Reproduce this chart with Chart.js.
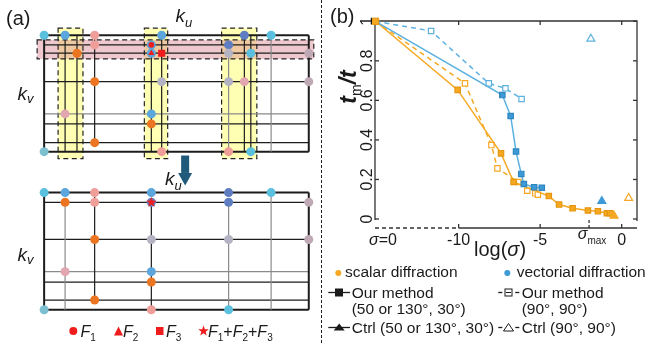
<!DOCTYPE html>
<html>
<head>
<meta charset="utf-8">
<script src="https://cdn.jsdelivr.net/npm/chart.js@4.4.0/dist/chart.umd.min.js"></script>
<style>
  html, body { margin: 0; padding: 0; background: #fff; }
  #wrap { position: relative; width: 651px; height: 343px; overflow: hidden; }
  #chartA { position: absolute; left: 0; top: 0; }
  #chartB { position: absolute; left: 322px; top: 0; }
  #divider { position: absolute; left: 321px; top: 0; width: 0; height: 343px; border-left: 1px dashed #222; }
</style>
</head>
<body>
<div id="wrap">
  <canvas id="chartA" width="322" height="343"></canvas>
  <canvas id="chartB" width="329" height="343"></canvas>
  <div id="divider"></div>
</div>
<script>
// ---------- (a) schematic: k-space grid before / after merging ----------
const kuTop = [40, 61.7, 74, 92.3, 151, 161.7, 231, 247.3, 254, 275, 314];
const kvTop = [30.7, 40.7, 49.3, 78.7, 112, 122.3, 141.7, 151];
const kuBot = [40, 61.7, 92.3, 151, 231, 275, 314];
const kvBot = [193.3, 203.3, 241.7, 275, 285.7, 304.3, 314.3];

// [column, fromRow, toRow, tone]
const topVLines = [[0,0,7,'b'],[1,0,7,'k'],[2,0,7,'k'],[3,0,6,'k'],[4,1,7,'k'],[5,0,7,'k'],
                   [6,1,7,'g'],[7,0,7,'k'],[8,0,7,'k'],[9,0,7,'g'],[10,0,7,'b']];
const topHTones = ['b','k','k','k','g','k','k','b'];
const botVLines = [[0,0,6,'b'],[1,1,6,'g'],[2,0,5,'k'],[3,1,6,'k'],[4,1,6,'g'],[5,0,6,'g'],[6,0,6,'b']];
const botHTones = ['b','k','k','g','k','k','b'];

// [column, row, colour]
const topDots = [[0,0,'cyan'],[1,0,'blue'],[3,0,'salmon'],[3,1,'salmon'],[2,2,'orange'],[3,3,'orange'],
                 [1,4,'pink'],[3,6,'orange'],[0,7,'teal'],[5,0,'blue'],[4,1,'blue'],[4,2,'blue'],
                 [5,3,'gray'],[4,4,'blue'],[4,5,'orange'],[5,7,'salmon'],[7,0,'dblue'],[9,0,'cyan'],
                 [6,1,'dblue'],[6,2,'gray'],[8,2,'cyan'],[10,2,'mauve'],[6,3,'gray'],[7,3,'pink'],
                 [10,3,'mauve'],[6,7,'salmon'],[8,7,'cyan']];
const botDots = [[0,0,'cyan'],[1,0,'blue'],[2,0,'salmon'],[3,0,'blue'],[4,0,'dblue'],[5,0,'cyan'],
                 [1,1,'orange'],[2,1,'salmon'],[3,1,'dblue'],[4,1,'dblue'],[6,1,'mauve'],
                 [2,2,'orange'],[3,2,'gray'],[4,2,'gray'],[6,2,'mauve'],[1,3,'pink'],[3,3,'blue'],
                 [3,4,'orange'],[2,5,'orange'],[0,6,'teal'],[3,6,'salmon'],[4,6,'cyan']];
// F markers [column, row]: F1, F2, F3 in the top grid, F1+F2+F3 in the bottom grid
const f1Top = [4, 1];
const f2Top = [4, 2];
const f3Top = [5, 2];
const fSumBot = [3, 1];
const yellowCols = [[1,2],[4,5],[6,8]];
const pinkRows = [1,2];

const dotColor = { cyan:'#5BC0DE', blue:'#5AA6DD', dblue:'#5F7EC2', salmon:'#EF9E9A', orange:'#EC7522',
                   pink:'#E2A6B0', gray:'#B3B3C3', mauve:'#BFA9B4', teal:'#7CC0D0' };
const FONT = "'Liberation Sans', Arial, sans-serif";
const RED = '#EE1C1C';

function starPath(ctx, cx, cy, r) {
  ctx.beginPath();
  for (let i = 0; i < 10; i++) {
    const rr = i % 2 ? r * 0.42 : r;
    const a = -Math.PI / 2 + i * Math.PI / 5;
    const px = cx + rr * Math.cos(a), py = cy + rr * Math.sin(a);
    if (i) ctx.lineTo(px, py); else ctx.moveTo(px, py);
  }
  ctx.closePath();
}
function starImage(r) {
  const c = document.createElement('canvas');
  c.width = c.height = Math.ceil(r * 2) + 2;
  const g = c.getContext('2d');
  g.fillStyle = RED;
  starPath(g, c.width / 2, c.height / 2, r);
  g.fill();
  return c;
}

// draws pieces of text one after another: [text, font, dy]
function richText(ctx, parts, x, y, align) {
  ctx.textAlign = 'left';
  let w = 0;
  parts.forEach(p => { ctx.font = p[1]; w += ctx.measureText(p[0]).width; });
  let cx = align === 'center' ? x - w / 2 : x;
  parts.forEach(p => {
    ctx.font = p[1];
    ctx.fillText(p[0], cx, y + (p[2] || 0));
    cx += ctx.measureText(p[0]).width;
  });
}

const lineSets = [];
function addLine(x0, y0, x1, y1, tone) {
  lineSets.push({
    data: [{x: x0, y: y0}, {x: x1, y: y1}], showLine: true, pointRadius: 0, order: 3,
    borderColor: tone === 'g' ? '#8a8a8a' : '#1c1c1c', borderWidth: tone === 'b' ? 2 : 1.2
  });
}
topVLines.forEach(([c, r0, r1, t]) => addLine(kuTop[c], kvTop[r0], kuTop[c], kvTop[r1], t));
topHTones.forEach((t, r) => addLine(kuTop[0], kvTop[r], kuTop[kuTop.length - 1], kvTop[r], t));
botVLines.forEach(([c, r0, r1, t]) => addLine(kuBot[c], kvBot[r0], kuBot[c], kvBot[r1], t));
botHTones.forEach((t, r) => addLine(kuBot[0], kvBot[r], kuBot[kuBot.length - 1], kvBot[r], t));

const allDots = topDots.map(d => ({x: kuTop[d[0]], y: kvTop[d[1]], c: d[2]}))
  .concat(botDots.map(d => ({x: kuBot[d[0]], y: kvBot[d[1]], c: d[2]})));

function fMark(pt, ku, kv, style, radius) {
  return {
    data: [{x: ku[pt[0]], y: kv[pt[1]]}], order: 1, pointStyle: style, pointRadius: radius,
    pointBackgroundColor: RED, pointBorderColor: RED, pointBorderWidth: 0
  };
}

const schemeA = {
  id: 'schemeA',
  beforeDatasetsDraw(chart) {
    const {ctx, scales: {x, y}} = chart;
    const t = y.getPixelForValue(kvTop[0]) - 7, b = y.getPixelForValue(kvTop[kvTop.length - 1]) + 7;
    const boxes = yellowCols.map(([c0, c1]) => [x.getPixelForValue(kuTop[c0]) - 7, x.getPixelForValue(kuTop[c1]) + 6]);
    const pl = x.getPixelForValue(kuTop[0]) - 7, pr = x.getPixelForValue(kuTop[kuTop.length - 1]) + 5;
    const pt = y.getPixelForValue(kvTop[pinkRows[0]]) - 5, pb = y.getPixelForValue(kvTop[pinkRows[1]]) + 5.7;
    ctx.save();
    ctx.fillStyle = '#FFFFB4';
    boxes.forEach(([l, r]) => ctx.fillRect(l, t, r - l, b - t));
    ctx.fillStyle = 'rgba(215,125,135,0.42)';
    ctx.fillRect(pl, pt, pr - pl, pb - pt);
    ctx.strokeStyle = '#222'; ctx.lineWidth = 1.2; ctx.setLineDash([5, 3.5]);
    boxes.forEach(([l, r]) => ctx.strokeRect(l, t, r - l, b - t));
    ctx.strokeRect(pl, pt, pr - pl, pb - pt);
    ctx.restore();
  },
  afterDraw(chart) {
    const {ctx, scales: {x, y}} = chart;
    ctx.save();
    ctx.fillStyle = '#1a1a1a';
    ctx.textBaseline = 'alphabetic';
    richText(ctx, [['(a)', '20px ' + FONT]], 6, 25);
    const kf = 'italic 19px ' + FONT, sf = 'italic 13px ' + FONT;
    richText(ctx, [['k', kf], ['u', sf, 5]], 175.5, 21.7);
    richText(ctx, [['k', kf], ['v', sf, 3]], 17.5, 100);
    richText(ctx, [['k', kf], ['u', sf, 5]], 165, 185);
    richText(ctx, [['k', kf], ['v', sf, 3]], 17.5, 260.5);

    // arrow between the two grids
    const ax = x.getPixelForValue(186), a0 = y.getPixelForValue(155), a1 = y.getPixelForValue(173), a2 = y.getPixelForValue(186);
    ctx.fillStyle = '#1F5A7A';
    ctx.fillRect(ax - 4, a0, 8, a1 - a0);
    ctx.beginPath(); ctx.moveTo(ax - 7, a1); ctx.lineTo(ax + 7, a1); ctx.lineTo(ax, a2); ctx.closePath(); ctx.fill();

    // F legend
    const ly = 331, F = 'italic 16px ' + FONT, S = '10px ' + FONT, P = '16px ' + FONT;
    ctx.fillStyle = RED;
    ctx.beginPath(); ctx.arc(73.3, ly, 4, 0, Math.PI * 2); ctx.fill();
    ctx.beginPath(); ctx.moveTo(114, ly + 4.5); ctx.lineTo(123, ly + 4.5); ctx.lineTo(118.5, ly - 4.5); ctx.closePath(); ctx.fill();
    ctx.fillRect(156, ly - 4, 7.5, 8);
    starPath(ctx, 203.5, ly, 5.5); ctx.fill();
    ctx.fillStyle = '#1a1a1a';
    richText(ctx, [['F', F], ['1', S, 4.5]], 80.5, 336.7);
    richText(ctx, [['F', F], ['2', S, 4.5]], 123, 336.7);
    richText(ctx, [['F', F], ['3', S, 4.5]], 166, 336.7);
    richText(ctx, [['F', F], ['1', S, 4.5], ['+', P], ['F', F], ['2', S, 4.5], ['+', P], ['F', F], ['3', S, 4.5]], 208, 336.7);
    ctx.restore();
  }
};

new Chart(document.getElementById('chartA'), {
  type: 'scatter',
  data: {
    datasets: [
      fMark(f1Top, kuTop, kvTop, 'circle', 2.8),
      fMark(f2Top, kuTop, kvTop, 'triangle', 3.6),
      fMark(f3Top, kuTop, kvTop, 'rect', 5),
      fMark(fSumBot, kuBot, kvBot, starImage(5.5), 5.5),
      {
        data: allDots, order: 2, pointStyle: 'circle', pointRadius: 4.5, pointBorderWidth: 0,
        pointBackgroundColor: allDots.map(p => dotColor[p.c])
      }
    ].concat(lineSets)
  },
  options: {
    responsive: false, animation: false, events: [],
    layout: { padding: 0 },
    plugins: { legend: { display: false }, tooltip: { enabled: false } },
    scales: {
      x: { type: 'linear', min: 0, max: 322, display: false },
      y: { type: 'linear', min: 0, max: 343, reverse: true, display: false }
    }
  },
  plugins: [schemeA]
});

// ---------- (b) t_m/t versus log(sigma); first point of each series is sigma = 0 ----------
const scalarOurX = [-15.1, -10.06, -7.40, -6.63, -4.47, -3.84, -3.01, -2.07, -1.46, -0.91, -0.71];
const scalarOurY = [1.0, 0.653, 0.332, 0.187, 0.116, 0.073, 0.054, 0.043, 0.039, 0.029, 0.029];
const scalar90X = [-15.1, -9.61, -7.99, -7.62, -6.34, -5.79, -5.30, -5.14];
const scalar90Y = [1.0, 0.686, 0.374, 0.256, 0.187, 0.143, 0.130, 0.123];
const vectorOurX = [-15.1, -7.32, -6.81, -6.48, -6.16, -6.0, -5.37, -4.9];
const vectorOurY = [1.0, 0.627, 0.521, 0.341, 0.228, 0.177, 0.161, 0.158];
const vector90X = [-15.1, -11.69, -8.15, -7.13, -6.14];
const vector90Y = [1.0, 0.951, 0.686, 0.661, 0.607];
const scalarCtrl = [-0.47, 0.016];
const vectorCtrl = [-1.22, 0.090];
const scalarCtrl90 = [0.43, 0.106];
const vectorCtrl90 = [-1.89, 0.911];
const yTickVals = [0, 0.2, 0.4, 0.6, 0.8, 1];
const yTickLabels = ['0', '0.2', '0.4', '0.6', '0.8', '1'];
const xTickVals = [-10, -5, 0];
const xTickLabels = ['-10', '-5', '0'];
const sigmaMax = -2;

const ORANGE = '#F6A823', ORANGE_D = '#E5960E', BLUE = '#5CB1E0', BLUE_F = '#3E9AD6', BLUE_D = '#2C86C0';
const xy = (xs, ys) => xs.map((v, i) => ({x: v, y: ys[i]}));
const noFirst = (n, r) => Array.from({length: n}, (_, i) => i === 0 ? 0 : r);

function series(xs, ys, line, dash, fill, edge, order) {
  return {
    data: xy(xs, ys), showLine: true, clip: false, order: order,
    borderColor: line, borderWidth: 1.5, borderDash: dash,
    pointStyle: 'rect', pointRadius: noFirst(xs.length, 3.8),
    pointBackgroundColor: fill, pointBorderColor: edge, pointBorderWidth: 1.2
  };
}
function marker(p, fill, edge, order) {
  return {
    data: [{x: p[0], y: p[1]}], showLine: false, clip: false, order: order,
    pointStyle: 'triangle', pointRadius: 4.6,
    pointBackgroundColor: fill, pointBorderColor: edge, pointBorderWidth: 1.2
  };
}

const axesB = {
  id: 'axesB',
  beforeDatasetsDraw(chart) {
    const {ctx, chartArea: a, scales: {x, y}} = chart;
    const y0 = y.getPixelForValue(0);
    const seg = (x0, y0_, x1, y1) => { ctx.beginPath(); ctx.moveTo(x0, y0_); ctx.lineTo(x1, y1); ctx.stroke(); };
    ctx.save();
    ctx.strokeStyle = '#333'; ctx.lineWidth = 1.3;
    ctx.beginPath();
    ctx.moveTo(a.left, y0 + 1); ctx.lineTo(a.left, a.top); ctx.lineTo(a.right, a.top); ctx.lineTo(a.right, y0 + 2);
    ctx.stroke();
    const xm10 = x.getPixelForValue(xTickVals[0]);
    ctx.setLineDash([4, 3]);
    seg(a.left, a.bottom, xm10, a.bottom);
    ctx.setLineDash([]);
    seg(xm10, a.bottom, a.right, a.bottom);
    yTickVals.forEach(v => {
      const p = y.getPixelForValue(v);
      seg(a.left, p, a.left + 4, p); seg(a.right, p, a.right - 4, p);
    });
    xTickVals.forEach(v => {
      const p = x.getPixelForValue(v);
      seg(p, a.top, p, a.top + 4); seg(p, a.bottom, p, a.bottom - 4);
    });
    const sm = x.getPixelForValue(sigmaMax);
    ctx.setLineDash([3, 2]);
    seg(sm, a.bottom, sm, y0);
    ctx.restore();
  },
  afterDraw(chart) {
    const {ctx, chartArea: a, scales: {x, y}} = chart;
    const T = '16px ' + FONT, TI = 'italic 16px ' + FONT;
    ctx.save();
    ctx.fillStyle = '#1a1a1a';
    ctx.textBaseline = 'alphabetic';
    richText(ctx, [['(b)', '20px ' + FONT]], 8, 23);

    // x tick labels
    xTickVals.forEach((v, i) => richText(ctx, [[xTickLabels[i], T]], x.getPixelForValue(v), 244.5, 'center'));
    richText(ctx, [['σ', TI], ['=0', T]], a.left + 8, 244.5, 'center');
    richText(ctx, [['σ', TI], ['max', '10px ' + FONT, 5]], x.getPixelForValue(sigmaMax) + 3, 239, 'center');
    richText(ctx, [['log(', '20px ' + FONT], ['σ', 'italic 20px ' + FONT], [')', '20px ' + FONT]], 178, 256, 'center');

    // y tick labels, rotated
    yTickVals.forEach((v, i) => {
      ctx.save();
      ctx.translate(a.left - 3.5, y.getPixelForValue(v));
      ctx.rotate(-Math.PI / 2);
      richText(ctx, [[yTickLabels[i], T]], 0, 0, 'center');
      ctx.restore();
    });
    ctx.save();
    ctx.translate(a.left - 19, 87);
    ctx.rotate(-Math.PI / 2);
    const TT = 'bold italic 23px ' + FONT;
    richText(ctx, [['t', TT], ['m', '14px ' + FONT, 4.5], ['/', TT], ['t', TT]], 0, 0, 'center');
    ctx.restore();

    // legend
    const L = '15.5px ' + FONT;
    ctx.fillStyle = ORANGE; ctx.beginPath(); ctx.arc(16.3, 273, 3, 0, Math.PI * 2); ctx.fill();
    ctx.fillStyle = BLUE_F; ctx.beginPath(); ctx.arc(185.3, 273, 3, 0, Math.PI * 2); ctx.fill();
    ctx.fillStyle = '#1a1a1a';
    richText(ctx, [['scalar diffraction', L]], 23, 277);
    richText(ctx, [['vectorial diffraction', L]], 194.7, 277);
    richText(ctx, [['Our method', L]], 29.7, 298);
    richText(ctx, [['(50 or 130°, 30°)', L]], 29.7, 313.5);
    richText(ctx, [['Ctrl (50 or 130°, 30°)', L]], 29.7, 333);
    richText(ctx, [['Our method', L]], 199.7, 298);
    richText(ctx, [['(90°, 90°)', L]], 199.7, 313.5);
    richText(ctx, [['Ctrl (90°, 90°)', L]], 199.7, 333);

    ctx.strokeStyle = '#1a1a1a'; ctx.lineWidth = 1.3;
    const seg = (x0, y0, x1, y1) => { ctx.beginPath(); ctx.moveTo(x0, y0); ctx.lineTo(x1, y1); ctx.stroke(); };
    seg(6.3, 292.5, 28, 292.5); ctx.fillRect(13, 288.5, 8, 8);
    seg(6.3, 327.5, 28, 327.5);
    ctx.beginPath(); ctx.moveTo(11.7, 330.5); ctx.lineTo(22.7, 330.5); ctx.lineTo(17.2, 323.5); ctx.closePath(); ctx.fill();
    seg(176.3, 292.5, 180.3, 292.5); seg(193.3, 292.5, 197.3, 292.5);
    ctx.lineWidth = 1; ctx.strokeRect(183, 289, 7, 7); seg(184, 292.5, 189, 292.5);
    ctx.lineWidth = 1.3;
    seg(176.3, 327.5, 180.3, 327.5); seg(193.3, 327.5, 197.3, 327.5);
    ctx.lineWidth = 1;
    ctx.beginPath(); ctx.moveTo(181.5, 331); ctx.lineTo(191.5, 331); ctx.lineTo(186.5, 323.5); ctx.closePath(); ctx.stroke();
    ctx.restore();
  }
};

new Chart(document.getElementById('chartB'), {
  type: 'scatter',
  data: {
    datasets: [
      marker(scalarCtrl, ORANGE, ORANGE, 0),
      marker(vectorCtrl, BLUE_F, BLUE_F, 0),
      marker(scalarCtrl90, '#fff', ORANGE, 0),
      marker(vectorCtrl90, '#fff', BLUE, 0),
      { data: [{x: scalarOurX[0], y: scalarOurY[0]}], showLine: false, clip: false, order: 0,
        pointStyle: 'rect', pointRadius: 4.5, pointBackgroundColor: ORANGE, pointBorderColor: ORANGE_D, pointBorderWidth: 1 },
      series(vectorOurX, vectorOurY, BLUE, [], BLUE_F, BLUE_D, 1),
      series(vector90X, vector90Y, BLUE, [5, 4], '#fff', BLUE, 2),
      series(scalarOurX, scalarOurY, ORANGE, [], ORANGE, ORANGE_D, 3),
      series(scalar90X, scalar90Y, ORANGE, [5, 4], '#fff', ORANGE, 4)
    ]
  },
  options: {
    responsive: false, animation: false, events: [],
    layout: { padding: { left: 53, right: 14, top: 21, bottom: 115 } },
    plugins: { legend: { display: false }, tooltip: { enabled: false } },
    scales: {
      x: { type: 'linear', min: -15.13, max: 0.94, display: false },
      y: { type: 'linear', min: -0.0455, max: 1.0015, display: false }
    }
  },
  plugins: [axesB]
});
</script>
</body>
</html>
